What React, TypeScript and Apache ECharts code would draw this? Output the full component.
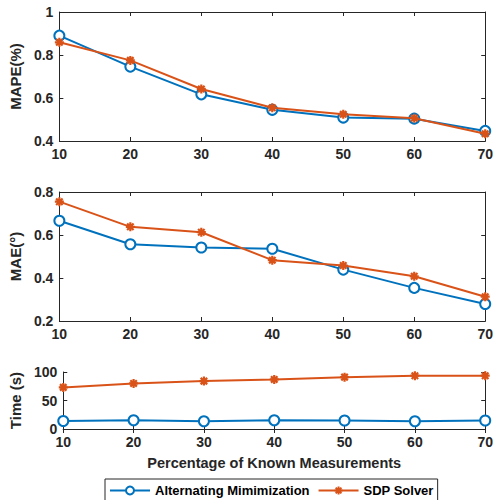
import React, { useEffect, useRef } from "react";
import * as echarts from "echarts";

const percentages = [10, 20, 30, 40, 50, 60, 70];
const mapeAlt = [0.89, 0.746, 0.617, 0.545, 0.509, 0.504, 0.447];
const mapeSdp = [0.859, 0.775, 0.642, 0.555, 0.524, 0.506, 0.434];
const maeAlt = [0.666, 0.557, 0.542, 0.536, 0.439, 0.354, 0.279];
const maeSdp = [0.755, 0.638, 0.613, 0.483, 0.458, 0.408, 0.313];
const timeAlt = [14, 15.3, 13.6, 15.3, 15, 13.6, 15];
const timeSdp = [73, 80, 84, 87, 91, 93.5, 93.5];
const seriesNames = ["Alternating Mimimization", "SDP Solver"];
const yNames = ["MAPE(%)", "MAE(°)", "Time (s)"];
const xName = "Percentage of Known Measurements";

const BLUE = "#0072BD";
const ORANGE = "#D95319";
const AX = "#262626";
const FONT = "'Liberation Sans', Arial, sans-serif";
const STAR = "path://M0,-5L0,5M-5,0L5,0M-3.6,-3.6L3.6,3.6M-3.6,3.6L3.6,-3.6";

export default function App() {
  const ref = useRef<HTMLDivElement>(null);
  useEffect(() => {
    if (!ref.current) return;
    const chart = echarts.init(ref.current, null, { renderer: "svg" });
    const grids = [
      { left: 55, right: 7, top: 12, height: 129 },
      { left: 55, right: 7, top: 192, height: 129 },
      { left: 55, right: 7, top: 372, height: 57 },
    ];
    const yRanges = [
      { min: 0.4, max: 1, interval: 0.2 },
      { min: 0.2, max: 0.8, interval: 0.2 },
      { min: 0, max: 100, interval: 50 },
    ];
    const lineStyle = { color: AX, width: 1 };
    const labelStyle = { color: AX, fontWeight: "bold" as const, fontSize: 14, fontFamily: FONT };
    const nameStyle = { color: AX, fontWeight: "bold" as const, fontSize: 15, fontFamily: FONT };
    const xAxes: any[] = [];
    const yAxes: any[] = [];
    grids.forEach((_, i) => {
      xAxes.push({
        type: "value", gridIndex: i, min: 10, max: 70, interval: 10, position: "bottom",
        axisLine: { show: true, lineStyle }, axisTick: { show: true, inside: true, length: 4, lineStyle },
        axisLabel: { ...labelStyle, margin: 6 }, splitLine: { show: false },
        name: i === 2 ? xName : "", nameLocation: "middle", nameGap: 26,
        nameTextStyle: { ...nameStyle, fontSize: 14.5 },
      });
      yAxes.push({
        type: "value", gridIndex: i, ...yRanges[i], position: "left",
        axisLine: { show: true, lineStyle }, axisTick: { show: true, inside: true, length: 4, lineStyle },
        axisLabel: { ...labelStyle, margin: 6 }, splitLine: { show: false },
        name: yNames[i], nameLocation: "middle", nameGap: 30,
        nameTextStyle: nameStyle,
      });
    });
    grids.forEach((_, i) => {
      xAxes.push({
        type: "value", gridIndex: i, min: 10, max: 70, interval: 10, position: "top",
        axisLine: { show: true, lineStyle }, axisTick: { show: true, inside: true, length: 4, lineStyle },
        axisLabel: { show: false }, splitLine: { show: false },
      });
      yAxes.push({
        type: "value", gridIndex: i, ...yRanges[i], position: "right",
        axisLine: { show: true, lineStyle }, axisTick: { show: true, inside: true, length: 4, lineStyle },
        axisLabel: { show: false }, splitLine: { show: false },
      });
    });
    const data = [
      [mapeAlt, mapeSdp],
      [maeAlt, maeSdp],
      [timeAlt, timeSdp],
    ];
    const series: any[] = [];
    data.forEach((pair, i) => {
      series.push({
        type: "line", name: seriesNames[0], xAxisIndex: i, yAxisIndex: i,
        data: percentages.map((p, k) => [p, pair[0][k]]),
        symbol: "emptyCircle", symbolSize: 10,
        lineStyle: { color: BLUE, width: 2 },
        itemStyle: { color: BLUE, borderColor: BLUE, borderWidth: 2 },
        z: 2,
      });
      series.push({
        type: "line", name: seriesNames[1], xAxisIndex: i, yAxisIndex: i,
        data: percentages.map((p, k) => [p, pair[1][k]]),
        symbol: STAR, symbolSize: 9,
        lineStyle: { color: ORANGE, width: 2 },
        itemStyle: { color: ORANGE, borderColor: ORANGE, borderWidth: 2.2 },
        z: 3,
      });
    });
    chart.setOption({
      animation: false,
      backgroundColor: "#fff",
      grid: grids,
      xAxis: xAxes,
      yAxis: yAxes,
      series,
      legend: {
        data: seriesNames,
        left: 105, top: 479,
        borderColor: AX, borderWidth: 1,
        padding: [5, 4, 5, 4],
        itemGap: 8,
        itemWidth: 40, itemHeight: 10,
        textStyle: { color: "#000", fontWeight: "bold", fontSize: 13, fontFamily: FONT },
      },
    });
    return () => chart.dispose();
  }, []);
  return (
    <div
      ref={ref}
      style={{ position: "fixed", left: 0, top: 0, width: 496, height: 506, background: "#fff" }}
    />
  );
}
